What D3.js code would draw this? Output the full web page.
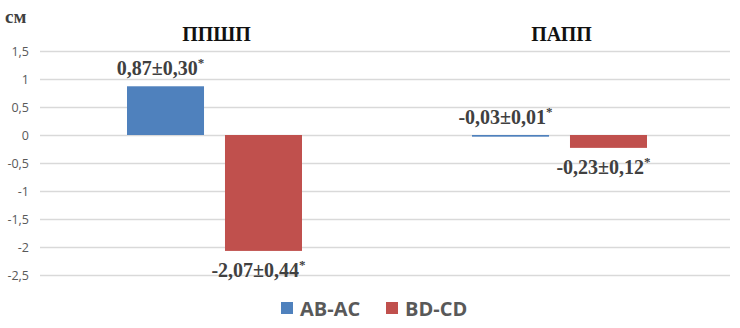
<!DOCTYPE html>
<html><head><meta charset="utf-8">
<script src="https://cdn.jsdelivr.net/npm/d3@7"></script>
<style>body{margin:0;background:#fff}svg{display:block}</style>
</head><body>
<svg id="c" width="740" height="328"></svg>
<script>
const categories = ["ППШП", "ПАПП"];
const seriesNames = ["AB-AC", "BD-CD"];
const seriesColors = ["#4f81bd", "#c0504d"];
const abAc = [0.87, -0.03];
const bdCd = [-2.07, -0.23];
const abAcErr = [0.30, 0.01];
const bdCdErr = [0.44, 0.12];
const yTicks = [1.5, 1, 0.5, 0, -0.5, -1, -1.5, -2, -2.5];
const unitLabel = "см";

const svg = d3.select("#c");
const x0 = 40, x1 = 730;
const y = d3.scaleLinear().domain([-2.5, 1.5]).range([275, 51]);
const xb = d3.scaleBand().domain(categories).range([x0 + 2, x1 + 2]);
const xs = d3.scaleBand().domain(seriesNames).range([0, 175]).paddingInner(0.214);

const fmt = v => d3.format(".2f")(v).replace(".", ",").replace("\u2212", "-");

// gridlines
svg.append("g").selectAll("line").data(yTicks).join("line")
  .attr("x1", x0).attr("x2", x1)
  .attr("y1", d => Math.round(y(d)) + 0.5).attr("y2", d => Math.round(y(d)) + 0.5)
  .attr("stroke", "#d9d9d9").attr("stroke-width", 1.3);

// y axis labels
const ax = d3.axisLeft(y).tickValues(yTicks).tickSize(0).tickPadding(0)
  .tickFormat(d => String(d).replace(".", ","));
const gA = svg.append("g").attr("transform", "translate(29,0)").call(ax);
gA.select(".domain").remove();
gA.selectAll("text").attr("fill", "#595959").attr("font-family", "'Open Sans', sans-serif").attr("font-size", 12.5);

svg.append("text").attr("x", 5).attr("y", 23).text(unitLabel)
  .attr("font-family", "'Liberation Serif', serif").attr("font-weight", "bold").attr("font-size", 19).attr("fill", "#404040");

// category titles
svg.append("g").selectAll("text").data(categories).join("text")
  .attr("x", d => xb(d) + xb.bandwidth() / 2 + 2).attr("y", 41)
  .attr("text-anchor", "middle").text(d => d)
  .attr("font-family", "'Liberation Serif', serif").attr("font-weight", "bold").attr("font-size", 20).attr("fill", "#111");

const series = [
  {name: seriesNames[0], vals: abAc, errs: abAcErr, color: seriesColors[0]},
  {name: seriesNames[1], vals: bdCd, errs: bdCdErr, color: seriesColors[1]}
];
const groupOff = (xb.bandwidth() - 175) / 2;

series.forEach(s => {
  const g = svg.append("g");
  g.selectAll("rect").data(categories).join("rect")
    .attr("x", d => xb(d) + groupOff + xs(s.name))
    .attr("width", xs.bandwidth())
    .attr("y", (d, i) => y(Math.max(0, s.vals[i])))
    .attr("height", (d, i) => Math.max(1.5, Math.abs(y(s.vals[i]) - y(0))))
    .attr("fill", s.color);
  const t = g.selectAll("text").data(categories).join("text")
    .attr("x", (d, i) => xb(d) + groupOff + xs(s.name) + xs.bandwidth() / 2 - 5)
    .attr("y", (d, i) => s.vals[i] >= 0 || s.name === seriesNames[0] ? Math.min(y(s.vals[i]), y(0)) - 11 : y(s.vals[i]) + 26)
    .attr("text-anchor", "middle")
    .attr("font-family", "'Liberation Serif', serif").attr("font-weight", "bold").attr("font-size", 20).attr("fill", "#404040");
  t.append("tspan").text((d, i) => fmt(s.vals[i]) + "±" + fmt(s.errs[i]));
  t.append("tspan").text("*").attr("dy", -8).attr("font-size", 13);
});

// legend
const lg = svg.append("g").attr("transform", "translate(281,302)");
const lx = [0, 105];
seriesNames.forEach((n, i) => {
  lg.append("rect").attr("x", lx[i]).attr("y", 0).attr("width", 12).attr("height", 12).attr("fill", seriesColors[i]);
  lg.append("text").attr("x", lx[i] + 19).attr("y", 13.5).text(n)
    .attr("font-family", "'Open Sans', sans-serif").attr("font-weight", "bold").attr("font-size", 20).attr("fill", "#595959");
});
</script>
</body></html>
